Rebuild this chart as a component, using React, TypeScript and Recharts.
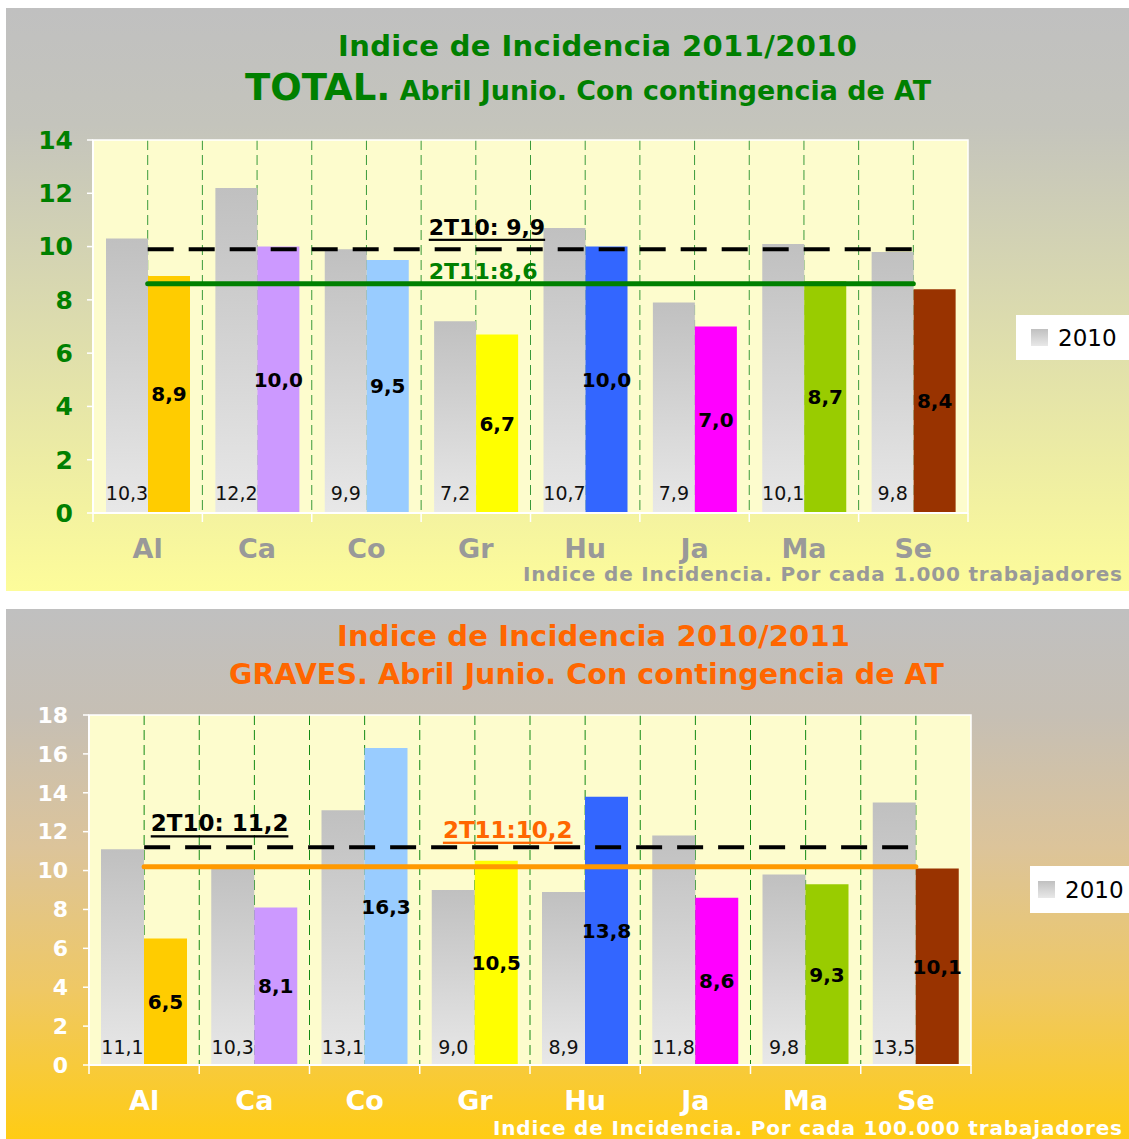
import React from "react";
import {
  ComposedChart,
  Bar,
  XAxis,
  YAxis,
  CartesianGrid,
  ReferenceLine,
  ReferenceArea,
  Cell,
  LabelList,
  Legend,
} from "recharts";

const regions = ["Al", "Ca", "Co", "Gr", "Hu", "Ja", "Ma", "Se"];
const colors2011 = ["#FFCC00", "#CC99FF", "#99CCFF", "#FFFF00", "#3366FF", "#FF00FF", "#99CC00", "#993300"];

// TOTAL, por cada 1.000 trabajadores
const total2010 = [10.3, 12.2, 9.9, 7.2, 10.7, 7.9, 10.1, 9.8];
const total2011 = [8.9, 10.0, 9.5, 6.7, 10.0, 7.0, 8.7, 8.4];
const totalTicks = [0, 2, 4, 6, 8, 10, 12, 14];
const totalMean2010 = 9.9;
const totalMean2011 = 8.6;

// GRAVES, por cada 100.000 trabajadores
const graves2010 = [11.1, 10.3, 13.1, 9.0, 8.9, 11.8, 9.8, 13.5];
const graves2011 = [6.5, 8.1, 16.3, 10.5, 13.8, 8.6, 9.3, 10.1];
const gravesTicks = [0, 2, 4, 6, 8, 10, 12, 14, 16, 18];
const gravesMean2010 = 11.2;
const gravesMean2011 = 10.2;

const FONT = "'DejaVu Sans', Verdana, sans-serif";
const fmt = (v: number) => v.toFixed(1).replace(".", ",");

const GrayLegend = ({ w, h, pad }: { w: number; h: number; pad: number }) => (
  <div
    style={{
      width: w,
      height: h,
      background: "#fff",
      display: "flex",
      alignItems: "center",
      paddingLeft: pad,
      boxSizing: "border-box",
      fontFamily: FONT,
      fontSize: 23,
      color: "#000",
    }}
  >
    <span
      style={{
        display: "inline-block",
        width: 17,
        height: 17,
        marginRight: 10,
        background: "linear-gradient(#c0c0c0, #e8e8e8)",
      }}
    />
    2010
  </div>
);

type Cfg = {
  id: string;
  width: number;
  height: number;
  top: number;
  right: number;
  yWidth: number;
  xHeight: number;
  ticks: number[];
  v2010: number[];
  v2011: number[];
  mean2010: number;
  mean2011: number;
  meanColor: string;
  labelColor2011: string;
  underline2011: boolean;
  label2010At: number;
  label2011At: number;
  label2010Up: number;
  label2011Up: number;
  labelSize: number;
  xColor: string;
  yColor: string;
  yFont: number;
  yMargin: number;
  gridColor: string;
  barSize: number;
  grayLabelUp: number;
  legend: { left: number; top: number; w: number; h: number; pad: number };
};

const IncidenceChart = ({ cfg }: { cfg: Cfg }) => {
  const n = regions.length;
  const data = regions.map((name, i) => ({ name, pos: i + 0.5, y2010: cfg.v2010[i], y2011: cfg.v2011[i] }));
  const yMax = cfg.ticks[cfg.ticks.length - 1];
  const gridXs = Array.from({ length: 2 * n - 1 }, (_, k) => (k + 1) / 2);
  const band = (cfg.width - cfg.yWidth - cfg.right) / n;

  // dashed verticals at every band centre and band edge, behind the bars
  const gridGen = ({ xAxis, offset }: any) =>
    gridXs.map((v) =>
      xAxis && typeof xAxis.scale === "function" ? xAxis.scale(v) : offset.left + (v * offset.width) / n
    );

  // category label in the band centre, small white tick at each band edge
  const CatTick = (props: any) => {
    const { x, y, payload, index } = props;
    return (
      <g>
        <line x1={x - band / 2} x2={x - band / 2} y1={y} y2={y + 9} stroke="#fff" strokeWidth={1.5} />
        {index === n - 1 && <line x1={x + band / 2} x2={x + band / 2} y1={y} y2={y + 9} stroke="#fff" strokeWidth={1.5} />}
        <text
          x={x}
          y={y + 35}
          textAnchor="middle"
          dominantBaseline="central"
          fill={cfg.xColor}
          fontSize={27}
          fontWeight="bold"
          fontFamily={FONT}
        >
          {payload.value}
        </text>
      </g>
    );
  };

  const GrayLabel = (props: any) => {
    const vb = props.viewBox ?? props;
    const { x, y, width, height } = vb;
    return (
      <text
        x={x + width / 2}
        y={y + height - cfg.grayLabelUp}
        textAnchor="middle"
        dominantBaseline="central"
        fontSize={19}
        fontFamily={FONT}
        fill="#111"
      >
        {fmt(props.value)}
      </text>
    );
  };

  const ColorLabel = (props: any) => {
    const vb = props.viewBox ?? props;
    const { x, y, width, height } = vb;
    return (
      <text
        x={x + width / 2}
        y={y + height / 2}
        textAnchor="middle"
        dominantBaseline="central"
        fontSize={20}
        fontWeight="bold"
        fontFamily={FONT}
        fill="#000"
      >
        {fmt(props.value)}
      </text>
    );
  };

  // mean labels sit along the mean lines, which run from the first to the last category centre
  const meanLabel = (text: string, at: number, up: number, color: string, underline: boolean) => (props: any) => {
    const vb = props.viewBox;
    const unit = vb.width / (n - 1);
    return (
      <text
        x={vb.x + (at - 0.5) * unit}
        y={vb.y - up}
        dominantBaseline="central"
        fontSize={cfg.labelSize}
        fontWeight="bold"
        fontFamily={FONT}
        fill={color}
        textDecoration={underline ? "underline" : undefined}
      >
        {text}
      </text>
    );
  };

  return (
    <ComposedChart
      width={cfg.width}
      height={cfg.height}
      data={data}
      margin={{ top: cfg.top, right: cfg.right, bottom: 0, left: 0 }}
      barGap={0}
    >
      <defs>
        <linearGradient id={`gray-${cfg.id}`} x1="0" y1="0" x2="0" y2="1">
          <stop offset="0%" stopColor="#c0c0c0" />
          <stop offset="100%" stopColor="#e8e8e8" />
        </linearGradient>
      </defs>
      <CartesianGrid
        xAxisId="num"
        fill="#FDFCCD"
        horizontal={false}
        vertical
        stroke={cfg.gridColor}
        strokeDasharray="10 5"
        verticalCoordinatesGenerator={gridGen}
      />
      <XAxis
        xAxisId="cat"
        dataKey="name"
        height={cfg.xHeight}
        interval={0}
        tickSize={0}
        tickMargin={0}
        tickLine={false}
        axisLine={{ stroke: "#fff", strokeWidth: 2 }}
        tick={CatTick}
      />
      <XAxis xAxisId="num" dataKey="pos" type="number" domain={[0, n]} allowDataOverflow hide />
      <YAxis
        domain={[0, yMax]}
        ticks={cfg.ticks}
        interval={0}
        width={cfg.yWidth}
        tickSize={6}
        tickMargin={cfg.yMargin}
        axisLine={{ stroke: "#fff", strokeWidth: 2 }}
        tickLine={{ stroke: "#fff", strokeWidth: 1.5 }}
        tick={{ fill: cfg.yColor, fontSize: cfg.yFont, fontWeight: "bold", fontFamily: FONT }}
      />
      <ReferenceArea xAxisId="num" x1={0} x2={n} y1={0} y2={yMax} fill="none" stroke="#fff" strokeWidth={1.5} />
      <Bar xAxisId="cat" dataKey="y2010" name="2010" fill={`url(#gray-${cfg.id})`} barSize={cfg.barSize} isAnimationActive={false}>
        <LabelList dataKey="y2010" content={GrayLabel} />
      </Bar>
      <Bar xAxisId="cat" dataKey="y2011" name="2011" barSize={cfg.barSize} isAnimationActive={false}>
        {data.map((d, i) => (
          <Cell key={d.name} fill={colors2011[i]} />
        ))}
        <LabelList dataKey="y2011" content={ColorLabel} />
      </Bar>
      <ReferenceLine
        xAxisId="num"
        segment={[{ x: 0.5, y: cfg.mean2011 }, { x: n - 0.5, y: cfg.mean2011 }]}
        stroke={cfg.meanColor}
        strokeWidth={5}
        strokeLinecap="round"
        label={meanLabel(`2T11:${fmt(cfg.mean2011)}`, cfg.label2011At, cfg.label2011Up, cfg.labelColor2011, cfg.underline2011)}
      />
      <ReferenceLine
        xAxisId="num"
        segment={[{ x: 0.5, y: cfg.mean2010 }, { x: n - 0.5, y: cfg.mean2010 }]}
        stroke="#000"
        strokeWidth={4}
        strokeDasharray="26 15"
        label={meanLabel(`2T10: ${fmt(cfg.mean2010)}`, cfg.label2010At, cfg.label2010Up, "#000", true)}
      />
      <Legend
        layout="vertical"
        align="center"
        verticalAlign="middle"
        wrapperStyle={{ left: cfg.legend.left, top: cfg.legend.top, width: cfg.legend.w, height: cfg.legend.h }}
        content={() => <GrayLegend w={cfg.legend.w} h={cfg.legend.h} pad={cfg.legend.pad} />}
      />
    </ComposedChart>
  );
};

const totalCfg: Cfg = {
  id: "total",
  width: 1123,
  height: 583,
  top: 132,
  right: 161,
  yWidth: 87,
  xHeight: 78,
  ticks: totalTicks,
  v2010: total2010,
  v2011: total2011,
  mean2010: totalMean2010,
  mean2011: totalMean2011,
  meanColor: "#008000",
  labelColor2011: "#008000",
  underline2011: false,
  label2010At: 3.07,
  label2011At: 3.07,
  label2010Up: 22,
  label2011Up: 12,
  labelSize: 22,
  xColor: "#999999",
  yColor: "#008000",
  yFont: 25,
  yMargin: 14,
  gridColor: "#3a9a3a",
  barSize: 42,
  grayLabelUp: 20,
  legend: { left: 1010, top: 307, w: 113, h: 45, pad: 15 },
};

const gravesCfg: Cfg = {
  id: "graves",
  width: 1123,
  height: 530,
  top: 106,
  right: 158,
  yWidth: 83,
  xHeight: 74,
  ticks: gravesTicks,
  v2010: graves2010,
  v2011: graves2011,
  mean2010: gravesMean2010,
  mean2011: gravesMean2011,
  meanColor: "#FF9900",
  labelColor2011: "#FF6600",
  underline2011: true,
  label2010At: 0.56,
  label2011At: 3.21,
  label2010Up: 24,
  label2011Up: 37,
  labelSize: 23,
  xColor: "#FFFFFF",
  yColor: "#FFFFFF",
  yFont: 22,
  yMargin: 15,
  gridColor: "#138a13",
  barSize: 43,
  grayLabelUp: 18,
  legend: { left: 1024, top: 257, w: 99, h: 47, pad: 8 },
};

const overlay: React.CSSProperties = { position: "absolute", left: 0, top: 0, pointerEvents: "none" };

export default function App() {
  return (
    <div style={{ position: "absolute", left: 0, top: 0, width: 1129, height: 1139, background: "#fff" }}>
      <div
        style={{
          position: "absolute",
          left: 6,
          top: 8,
          width: 1123,
          height: 583,
          background: "linear-gradient(#c0c0c0 0%, #c4c4bc 20%, #fdfc9a 100%)",
        }}
      >
        <IncidenceChart cfg={totalCfg} />
        <svg width={1123} height={583} style={overlay}>
          <text x={591.5} y={48} textAnchor="middle" fontSize={29} fontWeight="bold" fontFamily={FONT} fill="#008000" textLength={519} lengthAdjust="spacing">
            Indice de Incidencia 2011/2010
          </text>
          <text x={239} y={92} fontWeight="bold" fontFamily={FONT} fill="#008000">
            <tspan fontSize={37}>TOTAL.</tspan>
            <tspan fontSize={26.9}> Abril Junio. Con contingencia de AT</tspan>
          </text>
          <text x={1116} y={566} textAnchor="end" dominantBaseline="central" fontSize={20} fontWeight="bold" fontFamily={FONT} fill="#999999" textLength={599} lengthAdjust="spacing">
            Indice de Incidencia. Por cada 1.000 trabajadores
          </text>
        </svg>
      </div>
      <div
        style={{
          position: "absolute",
          left: 6,
          top: 609,
          width: 1123,
          height: 530,
          background: "linear-gradient(#c0c0c0 0%, #c6bfb4 20%, #dcc49a 45%, #efc864 72%, #ffcc14 100%)",
        }}
      >
        <IncidenceChart cfg={gravesCfg} />
        <svg width={1123} height={530} style={overlay}>
          <text x={587.5} y={37} textAnchor="middle" fontSize={29} fontWeight="bold" fontFamily={FONT} fill="#FF6600" textLength={513} lengthAdjust="spacing">
            Indice de Incidencia 2010/2011
          </text>
          <text x={580.5} y={75} textAnchor="middle" fontSize={28.5} fontWeight="bold" fontFamily={FONT} fill="#FF6600" textLength={715} lengthAdjust="spacing">
            GRAVES. Abril Junio. Con contingencia de AT
          </text>
          <text x={1116} y={519} textAnchor="end" dominantBaseline="central" fontSize={20} fontWeight="bold" fontFamily={FONT} fill="#FFFFFF" textLength={629} lengthAdjust="spacing">
            Indice de Incidencia. Por cada 100.000 trabajadores
          </text>
        </svg>
      </div>
    </div>
  );
}
